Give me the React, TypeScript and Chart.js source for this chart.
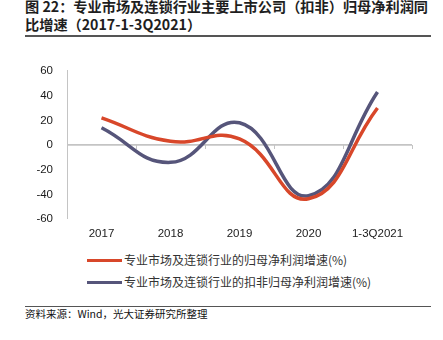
import React, { useEffect, useRef } from "react";
import { Chart, registerables } from "chart.js";

Chart.register(...registerables);

const categories = ["2017", "2018", "2019", "2020", "1-3Q2021"];
const netProfitGrowth = [22, 3, 5, -43.5, 30];
const deductedNetProfitGrowth = [14, -14, 18, -41, 43];
const yTicks = [-60, -40, -20, 0, 20, 40, 60];
const seriesNames = [
  "专业市场及连锁行业的归母净利润增速(%)",
  "专业市场及连锁行业的扣非归母净利润增速(%)",
];
const titleLines = [
  "图 22：专业市场及连锁行业主要上市公司（扣非）归母净利润同",
  "比增速（2017-1-3Q2021）",
];
const sourceText = "资料来源：Wind，光大证券研究所整理";

const RED = "#d8472a";
const PURPLE = "#56557a";
const AXIS = "#c4c4c4";
const CJK = '"Noto Sans CJK SC", "Noto Sans", sans-serif';
const LATIN = '"Liberation Sans", Arial, sans-serif';

export default function App() {
  const ref = useRef<HTMLCanvasElement | null>(null);

  useEffect(() => {
    if (!ref.current) return;
    const chart = new Chart(ref.current, {
      type: "line",
      data: {
        labels: categories,
        datasets: [
          {
            label: seriesNames[0],
            data: netProfitGrowth,
            borderColor: RED,
            backgroundColor: RED,
            borderWidth: 3.5,
            pointRadius: 0,
            tension: 0.45,
            xAxisID: "x",
          },
          {
            label: seriesNames[1],
            data: deductedNetProfitGrowth,
            borderColor: PURPLE,
            backgroundColor: PURPLE,
            borderWidth: 3.5,
            pointRadius: 0,
            tension: 0.45,
            xAxisID: "x",
          },
        ],
      },
      options: {
        animation: false,
        responsive: false,
        maintainAspectRatio: false,
        layout: { padding: { top: 12, right: 31, bottom: 0, left: 0 } },
        plugins: { legend: { display: false }, tooltip: { enabled: false } },
        scales: {
          x: {
            type: "category",
            position: "bottom",
            offset: true,
            grid: { display: false, drawTicks: false },
            border: { display: false },
            ticks: {
              padding: 8,
              color: "#1a1a1a",
              font: { family: LATIN, size: 11.5 },
              maxRotation: 0,
            },
          },
          x2: {
            type: "category",
            position: { y: 0 },
            offset: true,
            grid: {
              offset: true,
              drawOnChartArea: false,
              drawTicks: true,
              tickLength: 4,
              color: AXIS,
              lineWidth: 1,
            },
            border: { display: false },
            ticks: { display: false },
          },
          y: {
            min: -60,
            max: 60,
            afterBuildTicks: (scale: any) => {
              scale.ticks = yTicks.map((v) => ({ value: v }));
            },
            afterFit: (scale: any) => {
              scale.width = 67;
            },
            grid: {
              drawTicks: false,
              color: (ctx: any) =>
                ctx.tick && ctx.tick.value === 0 ? AXIS : "rgba(0,0,0,0)",
              lineWidth: (ctx: any) => (ctx.tick && ctx.tick.value === 0 ? 1.8 : 0),
            },
            border: { display: true, color: AXIS, width: 1 },
            ticks: {
              padding: 14,
              color: "#1a1a1a",
              font: { family: LATIN, size: 11.5 },
            },
          },
        },
      },
    });
    return () => chart.destroy();
  }, []);

  return (
    <div
      style={{
        position: "absolute",
        left: 0,
        top: 0,
        width: 443,
        height: 340,
        background: "#fff",
        overflow: "hidden",
      }}
    >
      {titleLines.map((t, i) => (
        <div
          key={i}
          style={{
            position: "absolute",
            left: 25,
            top: -3 + i * 18,
            fontFamily: CJK,
            fontWeight: 700,
            fontSize: 14.2,
            lineHeight: "18px",
            color: "#1e1e1e",
            whiteSpace: "nowrap",
          }}
        >
          {t}
        </div>
      ))}
      <div
        style={{
          position: "absolute",
          left: 25,
          top: 35,
          width: 406,
          height: 1.5,
          background: "#555",
        }}
      />
      <canvas
        ref={ref}
        width={443}
        height={199}
        style={{ position: "absolute", left: 0, top: 50, width: 443, height: 199 }}
      />
      {seriesNames.map((name, i) => (
        <div key={name}>
          <div
            style={{
              position: "absolute",
              left: 87,
              top: 259 + i * 22,
              width: 35,
              height: 3,
              background: i === 0 ? RED : PURPLE,
            }}
          />
          <div
            style={{
              position: "absolute",
              left: 124,
              top: 252 + i * 22,
              fontFamily: CJK,
              fontSize: 12,
              lineHeight: "16px",
              color: "#333",
              whiteSpace: "nowrap",
            }}
          >
            {name}
          </div>
        </div>
      ))}
      <div
        style={{
          position: "absolute",
          left: 25,
          top: 306,
          width: 406,
          height: 1,
          background: "#555",
        }}
      />
      <div
        style={{
          position: "absolute",
          left: 25,
          top: 307,
          fontFamily: CJK,
          fontSize: 10.5,
          lineHeight: "14px",
          color: "#111",
          whiteSpace: "nowrap",
        }}
      >
        {sourceText}
      </div>
    </div>
  );
}
